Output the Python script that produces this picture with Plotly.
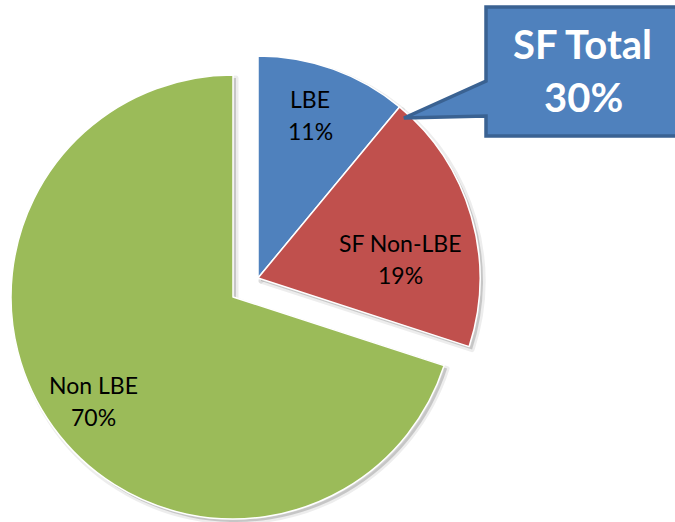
import plotly.graph_objects as go

W, H = 675, 522

# ---- data ----
categories = ["LBE", "SF Non-LBE", "Non LBE"]
values = [11, 19, 70]
pct_labels = ["11%", "19%", "70%"]
colors = ["#4F81BD", "#C0504D", "#9BBB59"]
callout_title = "SF Total"
callout_value = "30%"
sf_total = values[0] + values[1]

CLEAR = "rgba(0,0,0,0)"


def dom(cx, cy, r):
    return dict(x=[(cx - r) / W, (cx + r) / W],
                y=[1 - (cy + r) / H, 1 - (cy - r) / H])


def px(x, y):
    return x / W, 1 - y / H


R = 222
main_c = (233, 297)
pull_c = (258, 278)

fig = go.Figure()

# shadow layers
for (cx, cy), labs, vals, vis in [
    (main_c, ["gap", categories[2]], [sf_total, values[2]], [False, True]),
    (pull_c, [categories[0], categories[1], "rest"], [values[0], values[1], values[2]], [True, True, False]),
]:
    fig.add_trace(go.Pie(
        labels=labs, values=vals, sort=False, direction="clockwise", rotation=0,
        domain=dom(cx + 3, cy + 3, R),
        marker=dict(colors=["rgba(0,0,0,0.16)" if v else CLEAR for v in vis],
                    line=dict(color=["rgba(0,0,0,0.07)" if v else CLEAR for v in vis], width=5)),
        textinfo="none", hoverinfo="skip", showlegend=False,
    ))

# green (not pulled) slice
fig.add_trace(go.Pie(
    labels=["gap", categories[2]], values=[sf_total, values[2]],
    sort=False, direction="clockwise", rotation=0,
    domain=dom(*main_c, R),
    marker=dict(colors=[CLEAR, colors[2]], line=dict(color=[CLEAR, "white"], width=1.5)),
    textinfo="none", hoverinfo="label+percent", showlegend=False,
))

# pulled-out SF group
fig.add_trace(go.Pie(
    labels=[categories[0], categories[1], "rest"], values=[values[0], values[1], values[2]],
    sort=False, direction="clockwise", rotation=0,
    domain=dom(*pull_c, R),
    marker=dict(colors=[colors[0], colors[1], CLEAR], line=dict(color=["white", "white", CLEAR], width=1.5)),
    textinfo="none", hoverinfo="label+percent", showlegend=False,
))

annotations = []
label_pos = [(310, 115), (400, 259), (93, 401)]
for cat, pct, (x, y) in zip(categories, pct_labels, label_pos):
    for line, dy in [(cat, -16), (pct, 16)]:
        ax, ay = px(x, y + dy)
        annotations.append(dict(x=ax, y=ay, xref="paper", yref="paper", text=line,
                                showarrow=False, xanchor="center", yanchor="middle",
                                font=dict(family="Lato", size=23, color="black")))


def to_path(pts, close):
    s = "M " + " L ".join(f"{px(x, y)[0]:.5f},{px(x, y)[1]:.5f}" for x, y in pts)
    return s + (" Z" if close else "")


# callout box with pointer (fill, then open border without right edge)
fill_pts = [(486, 7), (675, 7), (675, 136), (486, 136), (486, 116), (404, 118), (486, 81)]
border_pts = [(675, 7), (486, 7), (486, 81), (404, 118), (486, 116), (486, 136), (675, 136)]
shapes = [
    dict(type="path", xref="paper", yref="paper", path=to_path(fill_pts, True),
         fillcolor="#4F81BD", line=dict(width=0)),
    dict(type="path", xref="paper", yref="paper", path=to_path(border_pts, False),
         line=dict(color="#3A6292", width=3.5)),
]

for txt, (x, y) in [(callout_title, (582, 44)), (callout_value, (583, 97))]:
    ax, ay = px(x, y)
    annotations.append(dict(x=ax, y=ay, xref="paper", yref="paper", text=f"<b>{txt}</b>",
                            showarrow=False, xanchor="center", yanchor="middle",
                            font=dict(family="Lato", size=40, color="white")))

fig.update_layout(
    width=W, height=H, margin=dict(l=0, r=0, t=0, b=0),
    paper_bgcolor="white", plot_bgcolor="white",
    showlegend=False, annotations=annotations, shapes=shapes,
)

fig.write_html(
    "out.html",
    config={"displayModeBar": False},
    post_script="document.body.style.margin='0';document.body.style.overflow='hidden';",
)
